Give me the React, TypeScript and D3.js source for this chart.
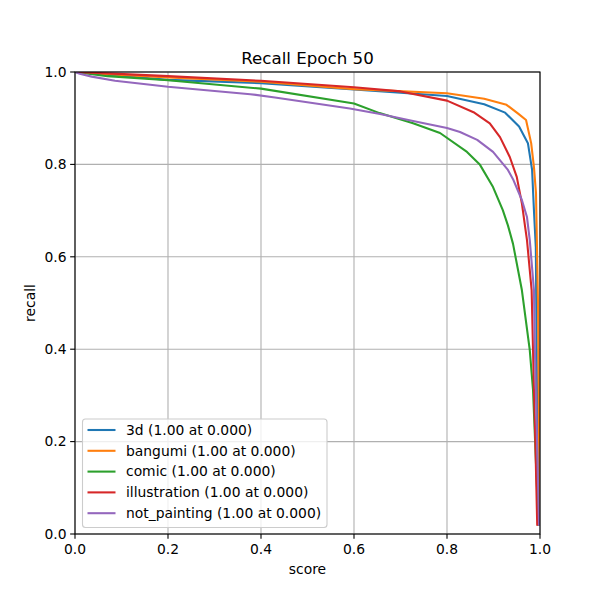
import React from "react";
import * as d3 from "d3";

const seriesNames = ["3d", "bangumi", "comic", "illustration", "not_painting"];
const legendLabels = [
  "3d (1.00 at 0.000)",
  "bangumi (1.00 at 0.000)",
  "comic (1.00 at 0.000)",
  "illustration (1.00 at 0.000)",
  "not_painting (1.00 at 0.000)",
];
const colors = ["#1f77b4", "#ff7f0e", "#2ca02c", "#d62728", "#9467bd"];

const curve3d: [number, number][] = [
  [0, 1], [0.07, 0.994], [0.2, 0.983], [0.4, 0.976], [0.6, 0.962], [0.8, 0.948],
  [0.88, 0.93], [0.925, 0.912], [0.955, 0.882], [0.974, 0.846], [0.983, 0.788],
  [0.987, 0.7], [0.991, 0.62], [0.9935, 0.31], [0.996, 0.12], [1.0, 0.02],
];
const curveBangumi: [number, number][] = [
  [0, 1], [0.07, 0.995], [0.2, 0.988], [0.4, 0.979], [0.6, 0.963], [0.8, 0.954],
  [0.88, 0.942], [0.928, 0.929], [0.953, 0.91], [0.97, 0.896], [0.981, 0.846],
  [0.987, 0.794], [0.9914, 0.738], [0.9957, 0.5], [0.998, 0.2], [1.0, 0.02],
];
const curveComic: [number, number][] = [
  [0, 1], [0.07, 0.991], [0.2, 0.982], [0.4, 0.964], [0.6, 0.932], [0.655, 0.911],
  [0.727, 0.889], [0.785, 0.868], [0.843, 0.827], [0.871, 0.799], [0.899, 0.751],
  [0.92, 0.701], [0.931, 0.668], [0.942, 0.628], [0.961, 0.528], [0.978, 0.398],
  [0.985, 0.312], [0.9935, 0.1], [0.996, 0.02],
];
const curveIllustration: [number, number][] = [
  [0, 1], [0.07, 0.997], [0.2, 0.991], [0.4, 0.981], [0.6, 0.967], [0.7, 0.958],
  [0.8, 0.938], [0.857, 0.913], [0.892, 0.889], [0.914, 0.859], [0.935, 0.816],
  [0.95, 0.773], [0.961, 0.716], [0.968, 0.665], [0.972, 0.636], [0.982, 0.528],
  [0.985, 0.398], [0.987, 0.312], [0.99, 0.2], [0.994, 0.02],
];
const curveNotPainting: [number, number][] = [
  [0, 1], [0.01, 0.996], [0.036, 0.99], [0.086, 0.981], [0.2, 0.968], [0.377, 0.952],
  [0.43, 0.945], [0.591, 0.921], [0.656, 0.909], [0.727, 0.894], [0.8, 0.879],
  [0.828, 0.87], [0.865, 0.853], [0.899, 0.827], [0.931, 0.788], [0.942, 0.768],
  [0.961, 0.723], [0.972, 0.686], [0.978, 0.636], [0.987, 0.528], [0.989, 0.398],
  [0.991, 0.312], [0.996, 0.1], [0.998, 0.02],
];
const curves = [curve3d, curveBangumi, curveComic, curveIllustration, curveNotPainting];

const xTicks = [0, 0.2, 0.4, 0.6, 0.8, 1.0];
const yTicks = [0, 0.2, 0.4, 0.6, 0.8, 1.0];
const title = "Recall Epoch 50";
const xLabel = "score";
const yLabel = "recall";

export default function App() {
  const W = 600, H = 600;
  const left = 75, right = 540, top = 72, bottom = 534;
  const x = d3.scaleLinear().domain([0, 1]).range([left, right]);
  const y = d3.scaleLinear().domain([0, 1]).range([bottom, top]);
  const line = d3.line<[number, number]>().x((d) => x(d[0])).y((d) => y(d[1]));
  const font = "DejaVu Sans, sans-serif";
  const tickFs = 13.89;

  const legX = 82.5, legY = 419, legW = 244.5, legH = 108.5;
  const rowY0 = 430, rowDy = 20.8;

  return (
    <svg width={W} height={H} style={{ position: "absolute", left: 0, top: 0, background: "#fff" }} fontFamily={font}>
      <rect x={0} y={0} width={W} height={H} fill="#fff" />
      <defs>
        <clipPath id="plotclip">
          <rect x={left} y={top} width={right - left} height={bottom - top} />
        </clipPath>
      </defs>
      {xTicks.map((t) => (
        <line key={"gx" + t} x1={x(t)} x2={x(t)} y1={top} y2={bottom} stroke="#b0b0b0" strokeWidth={1.1} />
      ))}
      {yTicks.map((t) => (
        <line key={"gy" + t} x1={left} x2={right} y1={y(t)} y2={y(t)} stroke="#b0b0b0" strokeWidth={1.1} />
      ))}
      <g clipPath="url(#plotclip)">
        {curves.map((c, i) => (
          <path key={seriesNames[i]} d={line(c) || ""} fill="none" stroke={colors[i]} strokeWidth={2.08} strokeLinejoin="round" strokeLinecap="square" />
        ))}
      </g>
      <rect x={left} y={top} width={right - left} height={bottom - top} fill="none" stroke="#000" strokeWidth={1.1} />
      {xTicks.map((t) => (
        <g key={"tx" + t}>
          <line x1={x(t)} x2={x(t)} y1={bottom} y2={bottom + 4.86} stroke="#000" strokeWidth={1.1} />
          <text x={x(t)} y={bottom + 19.5} textAnchor="middle" fontSize={tickFs} fill="#000">{t.toFixed(1)}</text>
        </g>
      ))}
      {yTicks.map((t) => (
        <g key={"ty" + t}>
          <line x1={left - 4.86} x2={left} y1={y(t)} y2={y(t)} stroke="#000" strokeWidth={1.1} />
          <text x={left - 8.5} y={y(t)} dy="0.35em" textAnchor="end" fontSize={tickFs} fill="#000">{t.toFixed(1)}</text>
        </g>
      ))}
      <text x={(left + right) / 2} y={64} textAnchor="middle" fontSize={16.67} fill="#000">{title}</text>
      <text x={(left + right) / 2} y={574} textAnchor="middle" fontSize={tickFs} fill="#000">{xLabel}</text>
      <text transform={`translate(35, ${(top + bottom) / 2}) rotate(-90)`} textAnchor="middle" fontSize={tickFs} fill="#000">{yLabel}</text>
      <rect x={legX} y={legY} width={legW} height={legH} rx={3} ry={3} fill="#fff" fillOpacity={0.8} stroke="#cccccc" strokeWidth={1.1} />
      {legendLabels.map((lab, i) => (
        <g key={lab}>
          <line x1={87.5} x2={115.5} y1={rowY0 + i * rowDy} y2={rowY0 + i * rowDy} stroke={colors[i]} strokeWidth={2.08} />
          <text x={126} y={rowY0 + i * rowDy} dy="0.35em" fontSize={tickFs} fill="#000">{lab}</text>
        </g>
      ))}
    </svg>
  );
}
